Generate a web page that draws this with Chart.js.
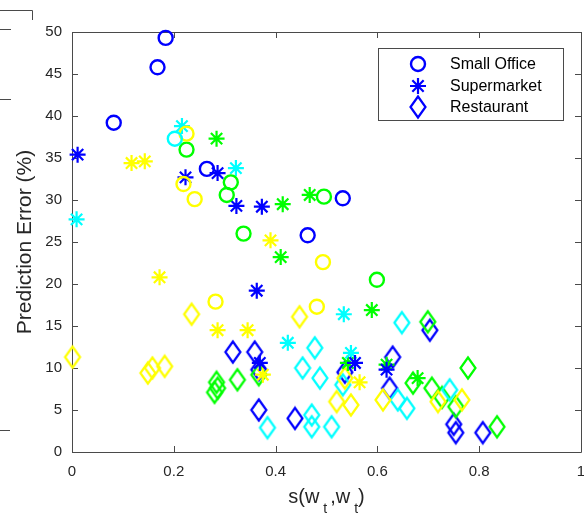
<!DOCTYPE html>
<html>
<head>
<meta charset="utf-8">
<script src="https://cdn.jsdelivr.net/npm/chart.js@4.4.1/dist/chart.umd.min.js"></script>
<style>
  html, body { margin: 0; padding: 0; background: #fff; }
  #grafica { display: block; }
</style>
</head>
<body>
<canvas id="grafica" width="584" height="518"></canvas>
<script>
// ticks
const xTicks = [0, 0.2, 0.4, 0.6, 0.8, 1];
const yTicks = [0, 5, 10, 15, 20, 25, 30, 35, 40, 45, 50];

const categorias = ['Small Office', 'Supermarket', 'Restaurant'];

// Small Office (circulos) - [s, error %]
const officeBlue = [[0.184, 49.3], [0.168, 45.8], [0.082, 39.2], [0.265, 33.7], [0.463, 25.8], [0.532, 30.2]];
const officeCyan = [[0.202, 37.3]];
const officeGreen = [[0.225, 36.0], [0.312, 32.1], [0.304, 30.6], [0.337, 26.0], [0.495, 30.4], [0.599, 20.5]];
const officeYellow = [[0.225, 37.9], [0.219, 31.9], [0.241, 30.1], [0.282, 17.9], [0.481, 17.3], [0.493, 22.6]];

// Supermarket (asteriscos)
const superBlue = [[0.011, 35.4], [0.223, 32.7], [0.286, 33.2], [0.323, 29.3], [0.373, 29.2], [0.363, 19.2], [0.369, 10.6], [0.556, 10.6], [0.618, 9.8]];
const superCyan = [[0.009, 27.7], [0.216, 38.8], [0.322, 33.8], [0.424, 13.0], [0.534, 16.4], [0.548, 11.8]];
const superGreen = [[0.284, 37.3], [0.414, 29.5], [0.467, 30.6], [0.410, 23.2], [0.589, 16.9], [0.542, 10.6], [0.618, 10.4], [0.679, 8.8]];
const superYellow = [[0.117, 34.4], [0.143, 34.6], [0.172, 20.8], [0.286, 14.5], [0.345, 14.5], [0.390, 25.2], [0.375, 9.2], [0.565, 8.3]];

// Restaurant (rombos)
const restBlue = [[0.316, 11.9], [0.359, 11.9], [0.367, 9.8], [0.367, 5.0], [0.438, 4.0], [0.536, 9.5], [0.630, 11.3], [0.624, 7.6], [0.703, 14.5], [0.750, 3.3], [0.754, 2.3], [0.807, 2.3]];
const restCyan = [[0.384, 2.9], [0.471, 4.4], [0.471, 3.0], [0.510, 3.0], [0.453, 10.0], [0.477, 12.4], [0.487, 8.8], [0.532, 8.0], [0.648, 15.4], [0.640, 6.2], [0.658, 5.2], [0.742, 7.4]];
const restGreen = [[0.284, 8.3], [0.286, 7.6], [0.280, 7.1], [0.325, 8.6], [0.367, 9.2], [0.699, 15.5], [0.670, 8.2], [0.707, 7.6], [0.727, 6.5], [0.754, 5.4], [0.778, 10.0], [0.835, 3.0]];
const restYellow = [[0.001, 11.3], [0.149, 9.4], [0.158, 10.0], [0.182, 10.2], [0.235, 16.4], [0.447, 16.1], [0.536, 8.8], [0.520, 6.0], [0.548, 5.6], [0.611, 6.2], [0.719, 6.0], [0.766, 6.2]];

const AZUL = '#0000ff', CIAN = '#00ffff', VERDE = '#00ff00', AMARILLO = '#ffff00';
const EJE = '#4a4a4a';
const TEXTO = '#262626';
const FUENTE = "'Liberation Sans', Arial, Helvetica, sans-serif";

// rombo alto tipo matlab, como imagen para pointStyle
function crearRombo(color) {
    const c = document.createElement('canvas');
    c.width = 20;
    c.height = 26;
    const g = c.getContext('2d');
    g.strokeStyle = color;
    g.lineWidth = 2.2;
    g.beginPath();
    g.moveTo(10, 2.5);
    g.lineTo(17.5, 13);
    g.lineTo(10, 23.5);
    g.lineTo(2.5, 13);
    g.closePath();
    g.stroke();
    return c;
}

const estilos = {
    circulo: { pointStyle: 'circle', pointRadius: 7, borderWidth: 2.4 },
    asterisco: { pointStyle: 'star', pointRadius: 8, borderWidth: 2.2 }
};

function serie(puntos, color, tipo) {
    const base = tipo === 'rombo'
        ? { pointStyle: crearRombo(color), pointRadius: 10, borderWidth: 2 }
        : estilos[tipo];
    return {
        data: puntos.map(p => ({ x: p[0], y: p[1] })),
        borderColor: color,
        backgroundColor: 'rgba(0,0,0,0)',
        pointStyle: base.pointStyle,
        pointRadius: base.pointRadius,
        pointBorderWidth: base.borderWidth,
        showLine: false,
        clip: false
    };
}

const datasets = [
    serie(officeBlue, AZUL, 'circulo'),
    serie(officeCyan, CIAN, 'circulo'),
    serie(officeYellow, AMARILLO, 'circulo'),
    serie(officeGreen, VERDE, 'circulo'),
    serie(superBlue, AZUL, 'asterisco'),
    serie(superCyan, CIAN, 'asterisco'),
    serie(superYellow, AMARILLO, 'asterisco'),
    serie(superGreen, VERDE, 'asterisco'),
    serie(restYellow, AMARILLO, 'rombo'),
    serie(restCyan, CIAN, 'rombo'),
    serie(restGreen, VERDE, 'rombo'),
    serie(restBlue, AZUL, 'rombo')
];

// caja de ejes con ticks hacia dentro (arriba, abajo, izq, der)
const cajaEjes = {
    id: 'cajaEjes',
    beforeDatasetsDraw(chart) {
        const { ctx, chartArea: a, scales } = chart;
        const L = 6;
        ctx.save();
        ctx.strokeStyle = EJE;
        ctx.lineWidth = 1;
        ctx.beginPath();
        ctx.rect(Math.round(a.left) + 0.5, Math.round(a.top) + 0.5,
                 Math.round(a.right - a.left), Math.round(a.bottom - a.top));
        scales.x.ticks.forEach(t => {
            const px = Math.round(scales.x.getPixelForValue(t.value)) + 0.5;
            ctx.moveTo(px, a.bottom); ctx.lineTo(px, a.bottom - L);
            ctx.moveTo(px, a.top); ctx.lineTo(px, a.top + L);
        });
        scales.y.ticks.forEach(t => {
            const py = Math.round(scales.y.getPixelForValue(t.value)) + 0.5;
            ctx.moveTo(a.left, py); ctx.lineTo(a.left + L, py);
            ctx.moveTo(a.right, py); ctx.lineTo(a.right - L, py);
        });
        ctx.stroke();

        // restos del panel vecino a la izquierda
        ctx.beginPath();
        ctx.moveTo(0, 10.5); ctx.lineTo(32.5, 10.5); ctx.lineTo(32.5, 20);
        ctx.moveTo(0, 29.5); ctx.lineTo(11, 29.5);
        ctx.moveTo(0, 99.5); ctx.lineTo(11, 99.5);
        ctx.moveTo(0, 430.5); ctx.lineTo(10, 430.5);
        ctx.stroke();
        ctx.restore();
    }
};

// titulo del eje x con subindices: s(w_t,w_t)
const tituloX = {
    id: 'tituloX',
    afterDraw(chart) {
        const { ctx, chartArea: a } = chart;
        const grande = '20px ' + FUENTE;
        const chica = '14px ' + FUENTE;
        const partes = [
            ['s(w', grande, 0, 0], ['t', chica, 10, 4],
            [',w', grande, 0, 3], ['t', chica, 10, 4],
            [')', grande, 0, 0]
        ];
        ctx.save();
        ctx.fillStyle = TEXTO;
        ctx.textBaseline = 'alphabetic';
        ctx.textAlign = 'left';
        let ancho = 0;
        partes.forEach(p => { ctx.font = p[1]; ancho += p[3] + ctx.measureText(p[0]).width; });
        let x = (a.left + a.right) / 2 - ancho / 2;
        const base = a.bottom + 51;
        partes.forEach(p => {
            ctx.font = p[1];
            x += p[3];
            ctx.fillText(p[0], x, base + p[2]);
            x += ctx.measureText(p[0]).width;
        });
        ctx.restore();
    }
};

// leyenda con recuadro, marcadores en azul
const leyenda = {
    id: 'leyenda',
    afterDraw(chart) {
        const { ctx } = chart;
        const caja = { x: 378.5, y: 48.5, w: 185, h: 72 };
        const filas = [64, 86, 107];
        const muestras = [datasets[0], datasets[4], datasets[11]];
        ctx.save();
        ctx.fillStyle = '#fff';
        ctx.fillRect(caja.x, caja.y, caja.w, caja.h);
        ctx.strokeStyle = EJE;
        ctx.lineWidth = 1;
        ctx.strokeRect(caja.x, caja.y, caja.w, caja.h);
        categorias.forEach((nombre, i) => {
            const d = muestras[i];
            ctx.strokeStyle = d.borderColor;
            ctx.lineWidth = d.pointBorderWidth;
            Chart.helpers.drawPoint(ctx, {
                pointStyle: d.pointStyle, radius: d.pointRadius,
                rotation: 0, borderWidth: d.pointBorderWidth
            }, 418, filas[i]);
            ctx.fillStyle = '#000';
            ctx.font = '16px ' + FUENTE;
            ctx.textBaseline = 'middle';
            ctx.fillText(nombre, 450, filas[i] + 1);
        });
        ctx.restore();
    }
};

Chart.defaults.font.family = FUENTE;
Chart.defaults.color = TEXTO;

new Chart(document.getElementById('grafica'), {
    type: 'scatter',
    data: { datasets },
    options: {
        responsive: false,
        animation: false,
        events: [],
        layout: { autoPadding: false, padding: { top: 32, right: 3, left: 0, bottom: 0 } },
        plugins: {
            legend: { display: false },
            tooltip: { enabled: false }
        },
        scales: {
            x: {
                type: 'linear',
                min: 0,
                max: 1,
                afterBuildTicks: s => { s.ticks = xTicks.map(v => ({ value: v })); },
                afterFit: s => { s.height = 66; s.paddingLeft = 0; s.paddingRight = 0; },
                grid: { display: false, drawTicks: false },
                border: { display: false },
                ticks: {
                    font: { size: 15 },
                    color: TEXTO,
                    padding: 11,
                    autoSkip: false,
                    maxRotation: 0,
                    callback: v => String(v)
                }
            },
            y: {
                type: 'linear',
                min: 0,
                max: 50,
                afterBuildTicks: s => { s.ticks = yTicks.map(v => ({ value: v })); },
                afterFit: s => { s.width = 72; s.paddingTop = 0; s.paddingBottom = 0; },
                grid: { display: false, drawTicks: false },
                border: { display: false },
                ticks: {
                    font: { size: 15 },
                    color: TEXTO,
                    padding: 10,
                    autoSkip: false
                },
                title: {
                    display: true,
                    text: 'Prediction Error (%)',
                    font: { size: 21 },
                    color: TEXTO,
                    padding: { top: 13, bottom: 0 }
                }
            }
        }
    },
    plugins: [cajaEjes, tituloX, leyenda]
});
</script>
</body>
</html>
